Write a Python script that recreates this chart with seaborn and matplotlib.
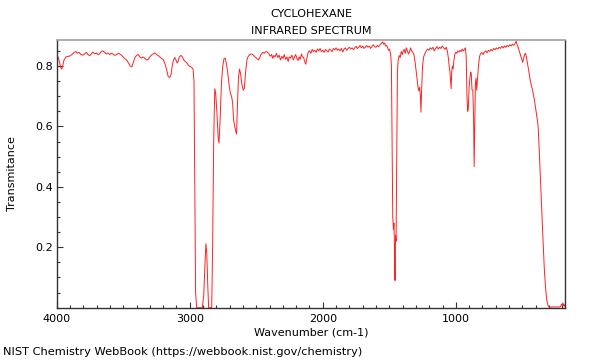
import matplotlib
matplotlib.use('Agg')
import matplotlib.pyplot as plt
import seaborn as sns
import pandas as pd
from matplotlib.ticker import MultipleLocator

# spectrum (cm-1, transmittance)
wavenumber = [
    4000, 3990, 3980, 3970, 3962, 3955, 3945, 3930, 3915, 3900, 3885, 3870, 3858, 3845, 3832, 3818,
    3805, 3790, 3778, 3765, 3752, 3740, 3728, 3715, 3702, 3690, 3678, 3665, 3652, 3640, 3628, 3615,
    3602, 3590, 3578, 3565, 3550, 3535, 3520, 3505, 3490, 3475, 3460, 3448, 3436, 3425, 3412, 3400,
    3388, 3375, 3362, 3350, 3338, 3325, 3312, 3300, 3288, 3275, 3262, 3250, 3238, 3225, 3212, 3200,
    3188, 3175, 3162, 3150, 3141, 3132, 3122, 3112, 3102, 3095, 3088, 3078, 3066, 3055, 3045, 3035,
    3025, 3015, 3005, 2995, 2985, 2975, 2968, 2962, 2956, 2948, 2935, 2920, 2905, 2895, 2885, 2878,
    2872, 2865, 2858, 2845, 2835, 2828, 2820, 2812, 2805, 2795, 2786, 2780, 2772, 2762, 2752, 2742,
    2734, 2725, 2715, 2705, 2695, 2686, 2678, 2670, 2662, 2655, 2648, 2642, 2634, 2626, 2618, 2608,
    2598, 2590, 2580, 2570, 2560, 2548, 2535, 2522, 2510, 2497, 2485, 2475, 2465, 2452, 2440, 2428,
    2416, 2405, 2395, 2385, 2375, 2368, 2358, 2348, 2338, 2328, 2318, 2308, 2298, 2290, 2280, 2270,
    2260, 2252, 2242, 2232, 2222, 2212, 2204, 2195, 2186, 2178, 2170, 2160, 2152, 2144, 2136, 2128,
    2120, 2110, 2100, 2090, 2080, 2070, 2060, 2050, 2040, 2030, 2020, 2010, 2000, 1990, 1980, 1970,
    1960, 1950, 1940, 1930, 1920, 1910, 1900, 1890, 1880, 1870, 1860, 1850, 1840, 1830, 1820, 1810,
    1800, 1790, 1780, 1770, 1760, 1750, 1740, 1730, 1720, 1710, 1700, 1690, 1680, 1670, 1660, 1650,
    1640, 1630, 1620, 1610, 1600, 1590, 1580, 1570, 1560, 1550, 1542, 1535, 1528, 1520, 1512, 1505,
    1498, 1490, 1484, 1479, 1474, 1469, 1465, 1461, 1457, 1453, 1449, 1444, 1439, 1433, 1426, 1418,
    1410, 1402, 1395, 1388, 1380, 1372, 1364, 1356, 1348, 1340, 1332, 1324, 1316, 1308, 1300, 1292,
    1284, 1278, 1272, 1266, 1262, 1257, 1250, 1242, 1232, 1222, 1212, 1202, 1192, 1182, 1172, 1162,
    1152, 1142, 1132, 1122, 1112, 1102, 1092, 1082, 1072, 1064, 1057, 1050, 1044, 1038, 1035, 1031,
    1026, 1020, 1014, 1008, 1000, 992, 984, 976, 968, 960, 952, 944, 936, 928, 922, 916,
    911, 906, 900, 894, 888, 884, 878, 872, 866, 862, 858, 853, 848, 843, 838, 830,
    822, 815, 805, 795, 785, 775, 765, 755, 745, 735, 725, 715, 705, 695, 685, 675,
    665, 655, 645, 635, 625, 615, 605, 595, 585, 575, 565, 555, 547, 540, 530, 520,
    510, 503, 497, 490, 483, 477, 470, 462, 452, 441, 432, 423, 410, 400, 390, 381,
    373, 365, 357, 350, 342, 335, 326, 318, 308, 298, 285, 270, 255, 240, 225, 212,
    205, 200, 195, 190, 185, 180,
]
transmittance = [
    0.835, 0.83, 0.815, 0.795, 0.79, 0.80, 0.82, 0.83, 0.832, 0.833, 0.838, 0.845, 0.848, 0.842, 0.845, 0.838,
    0.836, 0.84, 0.845, 0.838, 0.834, 0.84, 0.846, 0.84, 0.843, 0.838, 0.84, 0.848, 0.85, 0.845, 0.84, 0.843,
    0.838, 0.842, 0.84, 0.835, 0.838, 0.842, 0.838, 0.832, 0.825, 0.82, 0.81, 0.80, 0.797, 0.81, 0.828, 0.835,
    0.838, 0.83, 0.826, 0.83, 0.826, 0.82, 0.822, 0.83, 0.836, 0.84, 0.843, 0.838, 0.835, 0.83, 0.825, 0.822,
    0.81, 0.79, 0.765, 0.762, 0.77, 0.80, 0.82, 0.828, 0.818, 0.81, 0.815, 0.83, 0.835, 0.83, 0.82, 0.815,
    0.812, 0.806, 0.80, 0.798, 0.795, 0.79, 0.75, 0.40, 0.05, 0.0, 0.0, 0.0, 0.0, 0.04, 0.15, 0.212,
    0.18, 0.08, 0.0, 0.0, 0.0, 0.2, 0.55, 0.725, 0.71, 0.64, 0.56, 0.545, 0.62, 0.74, 0.80, 0.825,
    0.826, 0.81, 0.78, 0.74, 0.71, 0.70, 0.68, 0.62, 0.60, 0.585, 0.575, 0.66, 0.76, 0.79, 0.775, 0.74,
    0.72, 0.725, 0.78, 0.82, 0.832, 0.838, 0.84, 0.836, 0.83, 0.826, 0.82, 0.826, 0.838, 0.845, 0.842, 0.848,
    0.846, 0.84, 0.832, 0.838, 0.825, 0.835, 0.83, 0.842, 0.828, 0.836, 0.82, 0.832, 0.825, 0.838, 0.822, 0.83,
    0.815, 0.83, 0.826, 0.836, 0.82, 0.83, 0.838, 0.825, 0.818, 0.83, 0.822, 0.84, 0.83, 0.828, 0.815, 0.806,
    0.825, 0.845, 0.85, 0.842, 0.855, 0.848, 0.852, 0.845, 0.856, 0.85, 0.858, 0.848, 0.852, 0.845, 0.855, 0.85,
    0.846, 0.856, 0.852, 0.848, 0.858, 0.854, 0.86, 0.852, 0.856, 0.85, 0.858, 0.846, 0.856, 0.86, 0.852, 0.858,
    0.862, 0.856, 0.86, 0.854, 0.86, 0.865, 0.858, 0.862, 0.868, 0.86, 0.866, 0.858, 0.862, 0.868, 0.862, 0.866,
    0.858, 0.865, 0.87, 0.864, 0.862, 0.868, 0.864, 0.87, 0.875, 0.88, 0.872, 0.876, 0.866, 0.868, 0.86, 0.852,
    0.856, 0.84, 0.80, 0.55, 0.30, 0.26, 0.28, 0.20, 0.09, 0.24, 0.22, 0.50, 0.78, 0.82, 0.835, 0.828,
    0.848, 0.838, 0.85, 0.855, 0.842, 0.86, 0.85, 0.84, 0.846, 0.86, 0.85, 0.846, 0.84, 0.82, 0.79, 0.76,
    0.73, 0.718, 0.73, 0.70, 0.647, 0.72, 0.80, 0.83, 0.842, 0.85, 0.856, 0.852, 0.86, 0.856, 0.862, 0.85,
    0.858, 0.864, 0.856, 0.862, 0.858, 0.866, 0.86, 0.855, 0.862, 0.85, 0.83, 0.80, 0.78, 0.74, 0.725, 0.78,
    0.80, 0.79, 0.82, 0.838, 0.845, 0.842, 0.85, 0.846, 0.852, 0.848, 0.856, 0.85, 0.855, 0.86, 0.83, 0.70,
    0.65, 0.66, 0.73, 0.76, 0.78, 0.775, 0.72, 0.72, 0.62, 0.467, 0.60, 0.74, 0.76, 0.72, 0.75, 0.80,
    0.83, 0.84, 0.845, 0.838, 0.846, 0.85, 0.844, 0.852, 0.848, 0.855, 0.85, 0.858, 0.854, 0.86, 0.856, 0.862,
    0.858, 0.865, 0.86, 0.866, 0.862, 0.868, 0.864, 0.87, 0.866, 0.872, 0.868, 0.874, 0.882, 0.872, 0.86, 0.845,
    0.83, 0.82, 0.812, 0.825, 0.838, 0.842, 0.832, 0.81, 0.785, 0.754, 0.735, 0.72, 0.69, 0.66, 0.63, 0.60,
    0.52, 0.44, 0.35, 0.28, 0.20, 0.13, 0.07, 0.03, 0.008, 0.002, 0.002, 0.003, 0.002, 0.003, 0.002, 0.004,
    0.012, 0.008, 0.016, 0.006, 0.01, 0.004,
]

title_lines = ['CYCLOHEXANE', 'INFRARED SPECTRUM']
x_ticks = [4000, 3000, 2000, 1000]
y_ticks = [0.2, 0.4, 0.6, 0.8]
source_note = 'NIST Chemistry WebBook (https://webbook.nist.gov/chemistry)'

sns.set_theme(style='ticks')
plt.rcParams['font.family'] = ['DejaVu Sans']
plt.rcParams['text.color'] = 'black'
plt.rcParams['axes.labelcolor'] = 'black'

fig = plt.figure(figsize=(6, 3.6), dpi=100)
ax = fig.add_axes([56.7 / 600, 1 - 307.7 / 360, (565.3 - 56.7) / 600, (307.7 - 39.7) / 360])

df = pd.DataFrame({'wavenumber': wavenumber, 'transmittance': transmittance})
sns.lineplot(data=df, x='wavenumber', y='transmittance', ax=ax, color='#ff2020',
             linewidth=0.7, estimator=None, sort=False)

# axes ranges and ticks
ax.set_xlim(4000, 177)
ax.set_ylim(0, 0.887)
ax.set_xticks(x_ticks)
ax.set_yticks(y_ticks)
ax.xaxis.set_minor_locator(MultipleLocator(100))
ax.yaxis.set_minor_locator(MultipleLocator(0.05))
ax.tick_params(which='both', direction='in', labelsize=8, color='#333333', labelcolor='black')
ax.tick_params(axis='x', which='both', pad=4.5)
ax.tick_params(axis='y', which='both', pad=3)
ax.tick_params(which='major', length=4, width=0.8)
ax.tick_params(which='minor', length=2.5, width=0.8)

for side in ['left', 'bottom', 'right']:
    ax.spines[side].set_color('#333333')
    ax.spines[side].set_linewidth(1.0)
ax.spines['top'].set_color('#a0a0a0')
ax.spines['top'].set_linewidth(1.2)

ax.set_xlabel('Wavenumber (cm-1)', fontsize=8, labelpad=2.5)
ax.set_ylabel('Transmitance', fontsize=8, labelpad=13)
ax.set_title('\n'.join(title_lines), fontsize=8, linespacing=1.95, pad=4, color='black')

fig.text(0.005, 0.022, source_note, fontsize=8.2, va='center', ha='left')

plt.savefig('out.png', dpi=100)
plt.close()
